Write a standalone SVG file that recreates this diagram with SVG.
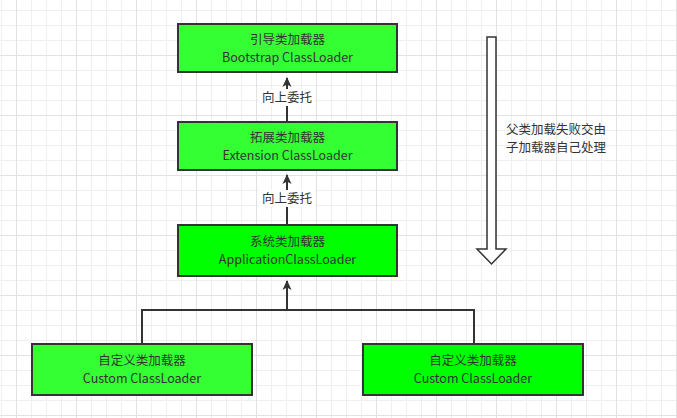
<svg xmlns="http://www.w3.org/2000/svg" width="677" height="418" viewBox="0 0 677 418">
<defs>
<style>
.box{stroke:#333333;stroke-width:2}
.lt{fill:#33FF33}
.dk{fill:#00FF00}
.t{font-family:"Noto Sans CJK SC",sans-serif;font-size:12.5px;fill:#333333;text-anchor:middle}
.lbl{font-family:"Noto Sans CJK SC",sans-serif;font-size:12.5px;fill:#333333}
.edge{stroke:#333333;stroke-width:2;fill:none}
</style>
<pattern id="minor" x="1" y="10" width="15" height="15" patternUnits="userSpaceOnUse">
<path d="M0.5 0V15M0 0.5H15" stroke="#efefef" stroke-width="1" fill="none"/>
</pattern>
<pattern id="major" x="16" y="55" width="60" height="60" patternUnits="userSpaceOnUse">
<path d="M0.5 0V60M0 0.5H60" stroke="#e2e2e2" stroke-width="1" fill="none"/>
</pattern>
<marker id="arr" markerWidth="10" markerHeight="16" refX="9" refY="4.5" orient="auto" markerUnits="userSpaceOnUse" viewBox="0 0 10 9">
<path d="M0 0L10 4.5L0 9L2.5 4.5Z" fill="#333333"/>
</marker>
</defs>
<rect width="677" height="418" fill="#ffffff"/>
<rect width="677" height="418" fill="url(#minor)"/>
<rect width="677" height="418" fill="url(#major)"/>

<g id="connectors">
<path class="edge" d="M287 121V78" marker-end="url(#arr)"/>
<path class="edge" d="M287 224V175" marker-end="url(#arr)"/>
<path class="edge" d="M142 344V310H474V344M287 310V281" marker-end="url(#arr)"/>
<rect x="259" y="89" width="56" height="17" fill="#ffffff"/>
<text class="t" x="287" y="102">向上委托</text>
<rect x="259" y="190" width="56" height="17" fill="#ffffff"/>
<text class="t" x="287" y="203">向上委托</text>
</g>

<g id="bootstrap">
<rect class="box lt" x="178" y="24" width="219" height="48"/>
<text class="t" x="287.5" y="44">引导类加载器</text>
<text class="t" x="287.5" y="62">Bootstrap ClassLoader</text>
</g>
<g id="extension">
<rect class="box lt" x="178" y="122" width="219" height="48"/>
<text class="t" x="287.5" y="142">拓展类加载器</text>
<text class="t" x="287.5" y="160">Extension ClassLoader</text>
</g>
<g id="application">
<rect class="box dk" x="178" y="225" width="219" height="51"/>
<text class="t" x="287.5" y="246">系统类加载器</text>
<text class="t" x="287.5" y="264">ApplicationClassLoader</text>
</g>
<g id="custom1">
<rect class="box lt" x="32" y="344" width="220" height="51"/>
<text class="t" x="142" y="365">自定义类加载器</text>
<text class="t" x="142" y="383">Custom ClassLoader</text>
</g>
<g id="custom2">
<rect class="box dk" x="363" y="344" width="220" height="51"/>
<text class="t" x="473" y="365">自定义类加载器</text>
<text class="t" x="473" y="383">Custom ClassLoader</text>
</g>

<g id="fallback-arrow">
<path d="M487 37H496V249H506L491.5 264L477 249H487Z" fill="#ffffff" stroke="#333333" stroke-width="1.5"/>
</g>
<g id="note">
<text class="lbl" x="506" y="134">父类加载失败交由</text>
<text class="lbl" x="506" y="152">子加载器自己处理</text>
</g>
</svg>
